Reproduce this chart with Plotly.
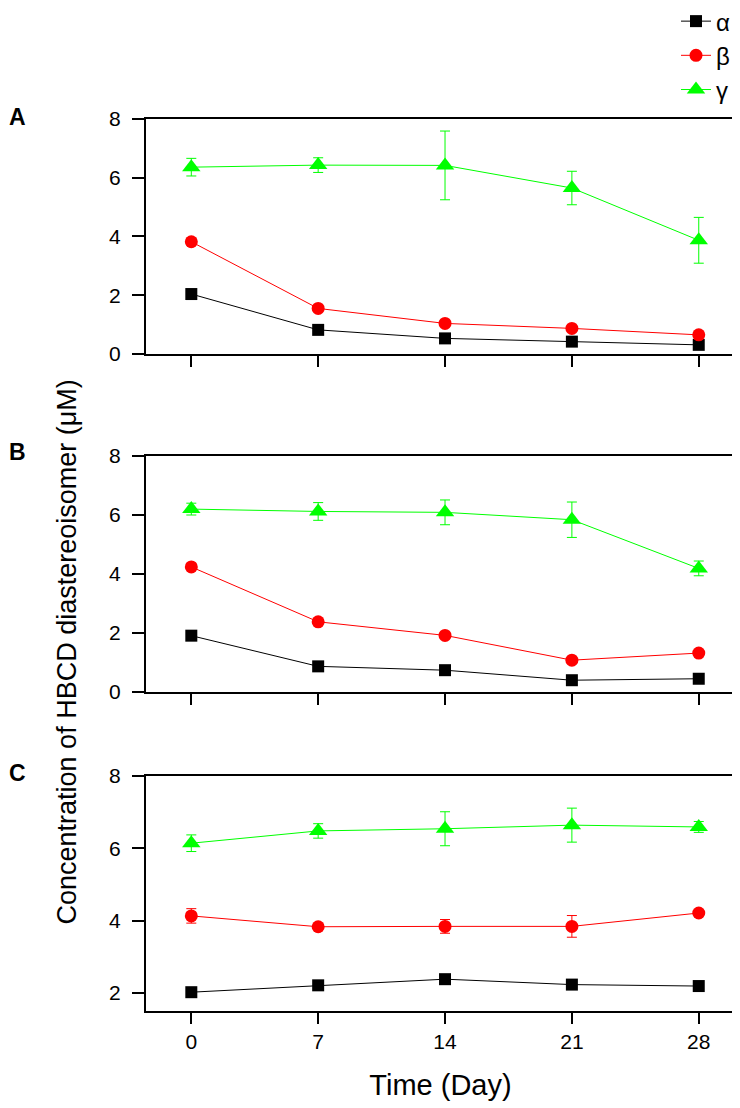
import plotly.graph_objects as go
from plotly.subplots import make_subplots

days = [0, 7, 14, 21, 28]
series_names = ["α", "β", "γ"]
series_colors = ["#000000", "#FF0000", "#00FF00"]
series_symbols = ["square", "circle", "triangle-up"]
series_sizes = [12, 13, 16]

# panel A
a_alpha = [2.04, 0.82, 0.53, 0.42, 0.31]
a_alpha_err = [0.05, 0.05, 0.05, 0.05, 0.05]
a_beta = [3.82, 1.55, 1.04, 0.87, 0.65]
a_beta_err = [0.12, 0.08, 0.08, 0.06, 0.05]
a_gamma = [6.36, 6.43, 6.42, 5.65, 3.87]
a_gamma_err = [0.30, 0.25, 1.17, 0.57, 0.78]

# panel B
b_alpha = [1.91, 0.87, 0.74, 0.40, 0.45]
b_alpha_err = [0.05, 0.05, 0.05, 0.05, 0.05]
b_beta = [4.24, 2.38, 1.92, 1.08, 1.32]
b_beta_err = [0.08, 0.08, 0.08, 0.08, 0.08]
b_gamma = [6.20, 6.12, 6.09, 5.84, 4.19]
b_gamma_err = [0.20, 0.30, 0.42, 0.60, 0.25]

# panel C
c_alpha = [2.02, 2.21, 2.38, 2.23, 2.19]
c_alpha_err = [0.05, 0.05, 0.05, 0.05, 0.05]
c_beta = [4.13, 3.83, 3.84, 3.84, 4.21]
c_beta_err = [0.20, 0.08, 0.19, 0.30, 0.08]
c_gamma = [6.14, 6.48, 6.54, 6.64, 6.59]
c_gamma_err = [0.23, 0.20, 0.47, 0.47, 0.15]

panels = [
    ([a_alpha, a_beta, a_gamma], [a_alpha_err, a_beta_err, a_gamma_err]),
    ([b_alpha, b_beta, b_gamma], [b_alpha_err, b_beta_err, b_gamma_err]),
    ([c_alpha, c_beta, c_gamma], [c_alpha_err, c_beta_err, c_gamma_err]),
]
panel_labels = ["A", "B", "C"]

FONT = "Liberation Sans, Arial, sans-serif"

fig = make_subplots(rows=3, cols=1)

for row, (vals, errs) in enumerate(panels, start=1):
    for i in range(3):
        fig.add_trace(go.Scatter(
            x=days,
            y=vals[i],
            error_y=dict(type="data", array=errs[i], color=series_colors[i], thickness=1, width=5),
            mode="lines+markers",
            name=series_names[i],
            legendgroup=series_names[i],
            showlegend=(row == 1),
            line=dict(color=series_colors[i], width=1),
            marker=dict(symbol=series_symbols[i], size=series_sizes[i], color=series_colors[i]),
        ), row=row, col=1)

# panel positions
y_domains = [[0.7366, 1.0], [0.3576, 0.6222], [0.0, 0.2635]]
y_ranges = [[0, 8], [0, 8], [1.5, 8]]
y_ticks = [[0, 2, 4, 6, 8], [0, 2, 4, 6, 8], [2, 4, 6, 8]]

for r in range(3):
    fig.update_yaxes(
        domain=y_domains[r], range=y_ranges[r], tickvals=y_ticks[r],
        showgrid=False, zeroline=False, showline=True, mirror=True,
        linecolor="black", linewidth=2, ticks="outside", ticklen=12, tickwidth=2,
        tickcolor="black", tickfont=dict(family=FONT, size=21, color="black"),
        ticklabelstandoff=7,
        row=r + 1, col=1,
    )
    fig.update_xaxes(
        range=[-2.5, 30], tickvals=days, showticklabels=(r == 2),
        showgrid=False, zeroline=False, showline=True, mirror=True,
        linecolor="black", linewidth=2, ticks="outside", ticklen=11, tickwidth=2,
        tickcolor="black", tickfont=dict(family=FONT, size=21, color="black"),
        row=r + 1, col=1,
    )

fig.update_xaxes(title=dict(text="Time (Day)", font=dict(family=FONT, size=29, color="black"), standoff=22), row=3, col=1)

# panel letters
label_y = [1.0022, 0.6267, 0.2668]
for lab, yy in zip(panel_labels, label_y):
    fig.add_annotation(text="<b>%s</b>" % lab, xref="paper", yref="paper", x=-0.219, y=yy,
                       xanchor="center", yanchor="middle", showarrow=False,
                       font=dict(family=FONT, size=23, color="black"))

fig.add_annotation(text="Concentration of HBCD diastereoisomer (μM)", xref="paper", yref="paper",
                   x=-0.134, y=0.402, textangle=-90, showarrow=False,
                   xanchor="center", yanchor="middle",
                   font=dict(family=FONT, size=27, color="black"))

# page body adds an 8px offset, so the figure is 8px smaller on each side
fig.update_layout(
    width=732,
    height=1100,
    margin=dict(l=138, r=5, t=111, b=97, autoexpand=False),
    plot_bgcolor="white",
    paper_bgcolor="white",
    font=dict(family=FONT, color="black"),
    showlegend=True,
    legend=dict(x=1.0, xanchor="right", y=1.1345, yanchor="top",
                font=dict(family=FONT, size=24, color="black"),
                bgcolor="rgba(0,0,0,0)", tracegroupgap=10, traceorder="normal"),
)

fig.write_html("out.html")
